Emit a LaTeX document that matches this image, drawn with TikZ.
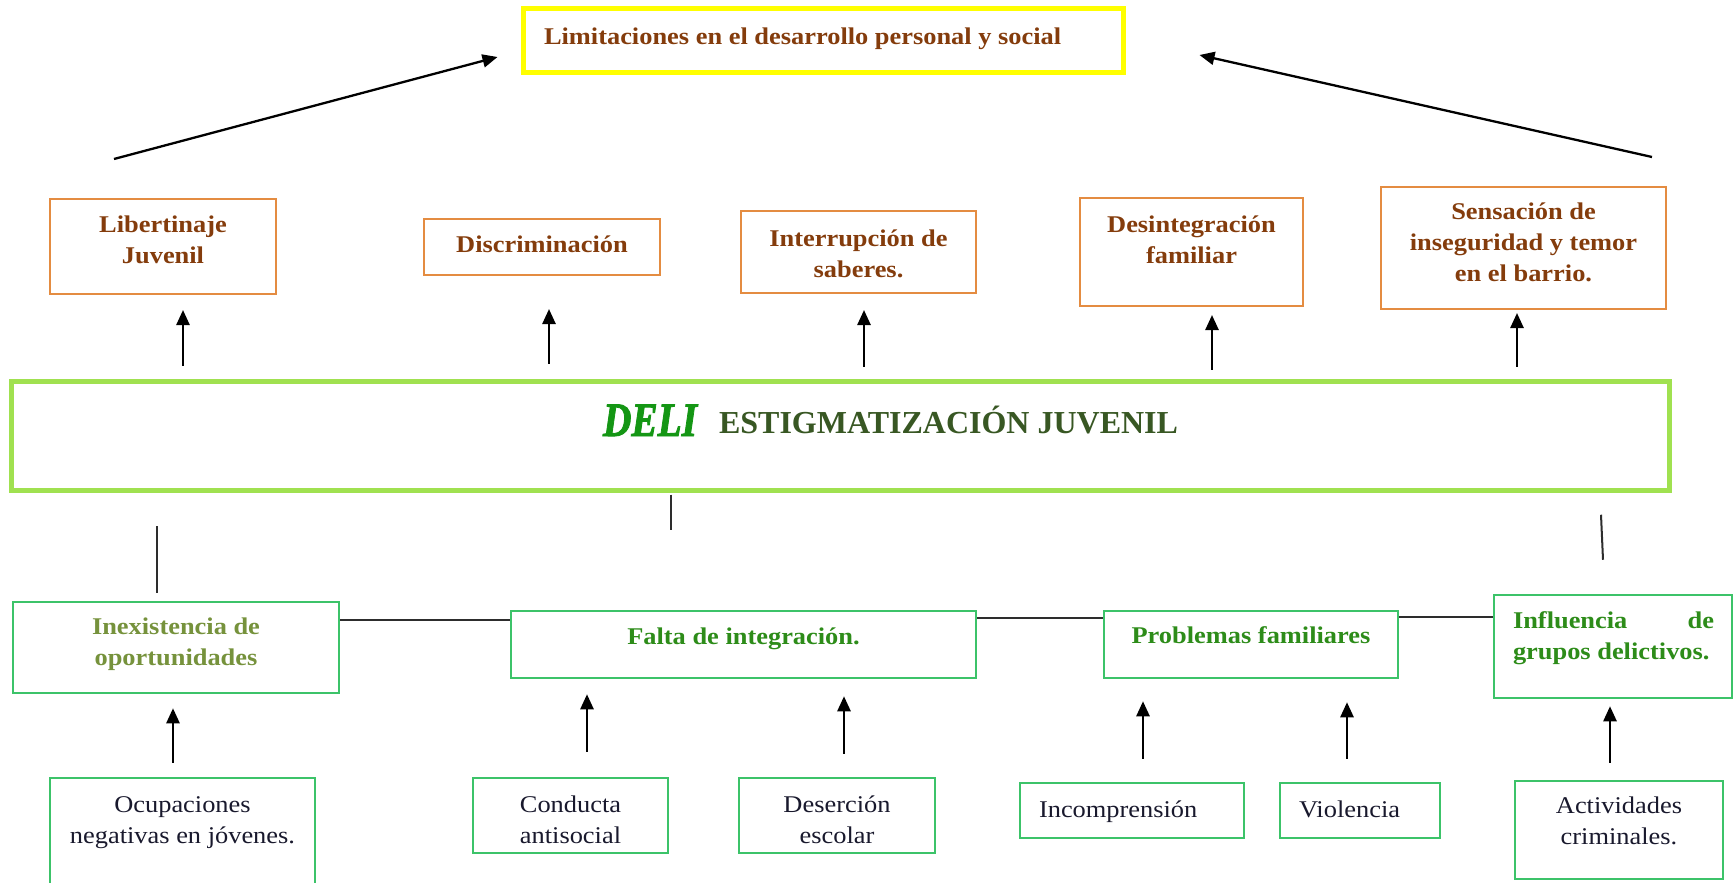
\documentclass[tikz,border=0pt]{standalone}
\usepackage{fontspec}
\usepackage{graphicx}
\setmainfont{Liberation Serif}[FakeStretch=1.1]
\newfontfamily\timesfont{Liberation Serif}
\newfontfamily\delifont{Liberation Serif}[FakeBold=2]
\usetikzlibrary{arrows.meta,calc}
\definecolor{limyellow}{RGB}{255,255,0}
\definecolor{effborder}{RGB}{228,140,65}
\definecolor{efftext}{RGB}{132,60,12}
\definecolor{corelime}{RGB}{160,225,80}
\definecolor{coregreen}{RGB}{20,150,20}
\definecolor{coreolive}{RGB}{56,87,35}
\definecolor{causeborder}{RGB}{60,195,105}
\definecolor{causeolive}{RGB}{118,146,60}
\definecolor{causegreen}{RGB}{45,140,25}
\definecolor{roottext}{RGB}{25,25,45}
\definecolor{linkgray}{RGB}{45,45,45}

% box of fixed size, text hung from the top
\newcommand{\cellbox}[4]{\parbox[c][#2pt][t]{#1pt}{\centering\vspace*{#3pt}#4}}
\newcommand{\leftbox}[5]{\parbox[c][#2pt][t]{#1pt}{\raggedright\vspace*{#3pt}\hspace*{#4pt}#5}}

\begin{document}
\begin{tikzpicture}[x=1pt, y=-1pt,
      effbox/.style={draw=effborder, line width=2pt, inner sep=0pt, text=efftext, font=\fontsize{24}{31}\selectfont\bfseries},
      causebox/.style={draw=causeborder, line width=2.5pt, inner sep=0pt, text=causegreen, font=\fontsize{24}{31}\selectfont\bfseries},
      rootbox/.style={draw=causeborder, line width=2.5pt, inner sep=0pt, text=roottext, font=\fontsize{24}{31}\selectfont},
      uparr/.style={-{Triangle[length=15pt, width=13pt]}, line width=2.5pt},
      diagarr/.style={-{Triangle[length=15pt, width=13pt]}, line width=2.3pt},
      link/.style={draw=linkgray, line width=2.3pt}
    ]
      \useasboundingbox (0,0) rectangle (1733,883);
      \clip (0,0) rectangle (1733,883);
      \fill[white] (0,0) rectangle (1733,883);

      % Consequence at the top
      \node[effbox, draw=limyellow, line width=5pt] (yell) at (823,41)
        {\leftbox{600}{64}{36}{21}{\smash{Limitaciones en el desarrollo personal y social}}};

      % Effects
      \node[effbox] (libert) at (163,246.5) {\cellbox{226}{95}{33}{\smash{Libertinaje}\\Juvenil}};
      \node[effbox] (discr)  at (542,247)   {\cellbox{236}{56}{33}{\smash{Discriminación}}};
      \node[effbox] (interr) at (858.5,252) {\cellbox{235}{82}{35}{\smash{Interrupción de}\\saberes.}};
      \node[effbox] (desint) at (1191.5,252) {\cellbox{223}{108}{34}{\smash{Desintegración}\\familiar}};
      \node[effbox] (sensa)  at (1523.5,248) {\cellbox{285}{122}{32}{\smash{Sensación de}\\inseguridad y temor\\en el barrio.}};

      % Central problem
      \node[draw=corelime, line width=5pt, inner sep=0pt] (big) at (840,435.5)
        {\leftbox{1658}{109}{55}{592}{\smash{\timesfont\bfseries\scalebox{0.82}[1]{\color{coregreen}\delifont\bfseries\itshape\fontsize{48}{48}\selectfont DELI}\hspace{22pt}\raisebox{3pt}{\color{coreolive}\fontsize{32}{32}\selectfont ESTIGMATIZACIÓN JUVENIL}}}};

      % Causes
      \node[causebox, text=causeolive] (inex) at (176,647.5) {\cellbox{326}{91}{32}{\smash{Inexistencia de}\\oportunidades}};
      \node[causebox] (falta) at (743.5,644.5) {\cellbox{465}{67}{33}{\smash{Falta de integración.}}};
      \node[causebox] (prob)  at (1251,644.5)  {\cellbox{294}{67}{32}{\smash{Problemas familiares}}};
      \node[causebox] (infl)  at (1613,646.5)
        {\leftbox{238}{103}{33}{19}{\smash{\hbox to 201pt{Influencia\hfill de}}\\\hspace*{19pt}grupos delictivos.}};

      % Root causes
      \node[rootbox] (ocup)   at (182.5,843) {\cellbox{265}{130}{34}{\smash{Ocupaciones}\\negativas en jóvenes.}};
      \node[rootbox] (conduc) at (570.5,815.5) {\cellbox{195}{75}{34}{\smash{Conducta}\\antisocial}};
      \node[rootbox] (deser)  at (837,815.5) {\cellbox{196}{75}{34}{\smash{Deserción}\\escolar}};
      \node[rootbox] (incomp) at (1132,810.5) {\leftbox{224}{55}{34}{19}{\smash{Incomprensión}}};
      \node[rootbox] (viol)   at (1360,810.5) {\leftbox{160}{55}{34}{19}{\smash{Violencia}}};
      \node[rootbox] (activ)  at (1619,830) {\cellbox{208}{98}{32}{\smash{Actividades}\\criminales.}};

      % arrows to the top box
      \draw[diagarr] ($(libert.north)+(-49,-39)$) -- ($(yell.west)+(-23,16)$);
      \draw[diagarr] ($(sensa.north)+(128.5,-29)$) -- ($(yell.east)+(74,14)$);

      % problem -> effects
      \draw[uparr] ($(libert.south |- big.north)+(20,-13)$) -- ($(libert.south)+(20,15)$);
      \draw[uparr] ($(discr.south |- big.north)+(7,-15)$) -- ($(discr.south)+(7,33)$);
      \draw[uparr] ($(interr.south |- big.north)+(5.5,-12)$) -- ($(interr.south)+(5.5,16)$);
      \draw[uparr] ($(desint.south |- big.north)+(20.5,-9)$) -- ($(desint.south)+(20.5,8)$);
      \draw[uparr] ($(sensa.south |- big.north)+(-6.5,-12)$) -- ($(sensa.south)+(-6.5,3)$);

      % root causes -> causes
      \draw[uparr] ($(ocup.north)+(-9.5,-14)$) -- ($(ocup.north |- inex.south)+(-9.5,14)$);
      \draw[uparr] ($(conduc.north)+(16.5,-25)$) -- ($(conduc.north |- falta.south)+(16.5,15)$);
      \draw[uparr] ($(deser.north)+(7,-23)$) -- ($(deser.north |- falta.south)+(7,17)$);
      \draw[uparr] ($(incomp.north)+(11,-23)$) -- ($(incomp.north |- prob.south)+(11,22)$);
      \draw[uparr] ($(viol.north)+(-13,-23)$) -- ($(viol.north |- prob.south)+(-13,23)$);
      \draw[uparr] ($(activ.north)+(-9,-17)$) -- ($(activ.north |- infl.south)+(-9,7)$);

      % links between causes
      \coordinate (linkA) at ($(inex.east)+(0,-27.5)$);
      \coordinate (linkB) at ($(falta.east)+(0,-26.5)$);
      \coordinate (linkC) at ($(prob.east)+(0,-27.5)$);
      \draw[link] (linkA) -- (linkA -| falta.west);
      \draw[link] (linkB) -- (linkB -| prob.west);
      \draw[link] (linkC) -- (linkC -| infl.west);

      % loose strokes under the problem
      \coordinate (tickL) at ($(inex.north)+(-19,-8)$);
      \coordinate (tickM) at ($(big.south)+(-169,2)$);
      \coordinate (tickR) at ($(infl.north)+(-10,-34)$);
      \draw[link, line width=2pt] (tickL) -- ++(0,-67);
      \draw[link, line width=2pt] (tickM) -- ++(0,35);
      \draw[link, line width=2pt] (tickR) -- ++(-2,-45);
    \end{tikzpicture}
\end{document}
